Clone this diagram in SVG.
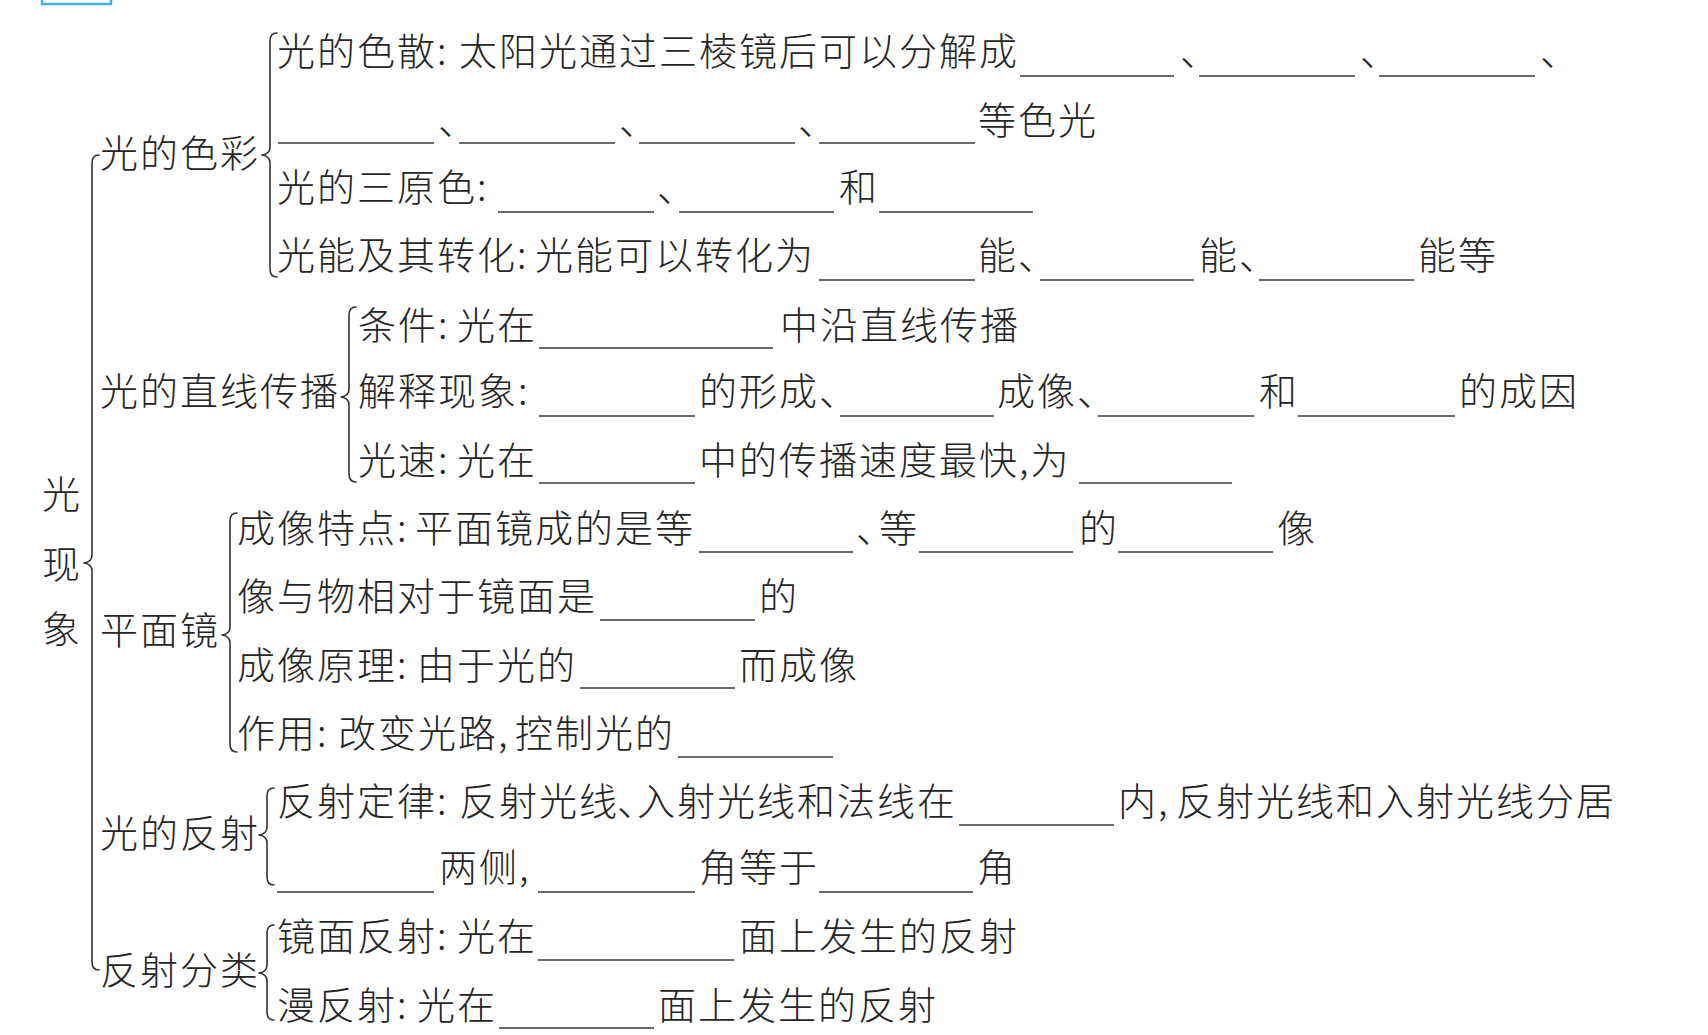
<svg xmlns="http://www.w3.org/2000/svg" width="1708" height="1035" viewBox="0 0 1708 1035">
<style>
text{font-family:"Noto Sans CJK SC","Noto Sans CJK JP",sans-serif;font-size:38px;font-weight:300;letter-spacing:2px;fill:#262626}
.n{letter-spacing:-20px}
.b{stroke:#3a3a3a;stroke-width:1.4;fill:none}
.br{stroke:#333;stroke-width:1.6;fill:none;stroke-linecap:round;stroke-linejoin:round}
</style>
<rect width="1708" height="1035" fill="#ffffff"/>
<rect x="42" y="-4" width="69" height="8" fill="#ffffff" stroke="#45aee6" stroke-width="2.5"/>

<g id="connectors">
<path class="br" d="M99,155 Q92,155 92,163 L92,555 Q92,562 84,563 Q92,564 92,571 L92,962 Q92,970 99,970"/>
<path class="br" d="M277,33 Q270,33 270,41 L270,147 Q270,154 262,155 Q270,156 270,163 L270,269 Q270,277 277,277"/>
<path class="br" d="M356,307 Q349,307 349,315 L349,389 Q349,396 341,397 Q349,398 349,405 L349,474 Q349,482 356,482"/>
<path class="br" d="M237,513 Q230,513 230,521 L230,627 Q230,634 222,635 Q230,636 230,643 L230,744 Q230,752 237,752"/>
<path class="br" d="M274,788 Q267,788 267,796 L267,827 Q267,834 259,835 Q267,836 267,843 L267,877 Q267,885 274,885"/>
<path class="br" d="M274,925 Q267,925 267,933 L267,965 Q267,972 259,973 Q267,974 267,981 L267,1012 Q267,1020 274,1020"/>
</g>

<g id="root">
<text x="42" y="508">光</text>
<text x="42" y="578">现</text>
<text x="42" y="643">象</text>
</g>

<g id="cat-color"><text x="100" y="167">光的色彩</text></g>
<g id="cat-straight"><text x="100" y="405">光的直线传播</text></g>
<g id="cat-mirror"><text x="100" y="644">平面镜</text></g>
<g id="cat-reflect"><text x="100" y="847">光的反射</text></g>
<g id="cat-types"><text x="100" y="984">反射分类</text></g>

<g id="dispersion">
<text y="65"><tspan x="277">光的色散:</tspan><tspan x="459">太阳光通过三棱镜后可以分解成</tspan><tspan x="1180">、</tspan><tspan x="1360">、</tspan><tspan x="1540">、</tspan></text>
<line class="b" x1="1020" y1="76" x2="1174" y2="76"/>
<line class="b" x1="1199" y1="76" x2="1355" y2="76"/>
<line class="b" x1="1379" y1="76" x2="1535" y2="76"/>
<text y="134"><tspan x="438">、</tspan><tspan x="619">、</tspan><tspan x="798">、</tspan><tspan x="978">等色光</tspan></text>
<line class="b" x1="278" y1="143" x2="434" y2="143"/>
<line class="b" x1="459" y1="143" x2="615" y2="143"/>
<line class="b" x1="639" y1="143" x2="795" y2="143"/>
<line class="b" x1="819" y1="143" x2="975" y2="143"/>
</g>

<g id="primary">
<text y="201"><tspan x="277">光的三原色:</tspan><tspan x="657">、</tspan><tspan x="839">和</tspan></text>
<line class="b" x1="498" y1="212" x2="654" y2="212"/>
<line class="b" x1="679" y1="212" x2="834" y2="212"/>
<line class="b" x1="879" y1="212" x2="1033" y2="212"/>
</g>

<g id="energy">
<text y="269"><tspan x="277">光能及其转化:</tspan><tspan x="535">光能可以转化为</tspan><tspan x="978">能、</tspan><tspan x="1199">能、</tspan><tspan x="1418">能等</tspan></text>
<line class="b" x1="819" y1="280" x2="975" y2="280"/>
<line class="b" x1="1040" y1="280" x2="1194" y2="280"/>
<line class="b" x1="1259" y1="280" x2="1414" y2="280"/>
</g>

<g id="condition">
<text y="339"><tspan x="358">条件:</tspan><tspan x="457">光在</tspan><tspan x="780">中沿直线传播</tspan></text>
<line class="b" x1="539" y1="348" x2="773" y2="348"/>
</g>

<g id="phenomena">
<text y="405"><tspan x="358">解释现象:</tspan><tspan x="699">的形成、</tspan><tspan x="997">成像、</tspan><tspan x="1259">和</tspan><tspan x="1459">的成因</tspan></text>
<line class="b" x1="539" y1="416" x2="695" y2="416"/>
<line class="b" x1="840" y1="416" x2="994" y2="416"/>
<line class="b" x1="1098" y1="416" x2="1254" y2="416"/>
<line class="b" x1="1298" y1="416" x2="1455" y2="416"/>
</g>

<g id="speed">
<text y="474"><tspan x="358">光速:</tspan><tspan x="457">光在</tspan><tspan x="699">中的传播速度最快,为</tspan></text>
<line class="b" x1="539" y1="483" x2="695" y2="483"/>
<line class="b" x1="1079" y1="483" x2="1232" y2="483"/>
</g>

<g id="features">
<text y="542"><tspan x="237">成像特点:</tspan><tspan x="415">平面镜成的是等</tspan><tspan x="856" class="n">、</tspan><tspan x="879">等</tspan><tspan x="1079">的</tspan><tspan x="1277">像</tspan></text>
<line class="b" x1="699" y1="552" x2="853" y2="552"/>
<line class="b" x1="919" y1="552" x2="1073" y2="552"/>
<line class="b" x1="1118" y1="552" x2="1273" y2="552"/>
</g>

<g id="symmetry">
<text y="610"><tspan x="237">像与物相对于镜面是</tspan><tspan x="759">的</tspan></text>
<line class="b" x1="600" y1="620" x2="755" y2="620"/>
</g>

<g id="principle">
<text y="679"><tspan x="237">成像原理:</tspan><tspan x="417">由于光的</tspan><tspan x="739">而成像</tspan></text>
<line class="b" x1="580" y1="688" x2="735" y2="688"/>
</g>

<g id="usage">
<text y="747"><tspan x="237">作用:</tspan><tspan x="338">改变光路,</tspan><tspan x="515">控制光的</tspan></text>
<line class="b" x1="678" y1="757" x2="833" y2="757"/>
</g>

<g id="law">
<text y="815"><tspan x="277">反射定律:</tspan><tspan x="459">反射光线</tspan><tspan x="617" class="n">、</tspan><tspan x="637">入射光线和法线在</tspan><tspan x="1118">内,</tspan><tspan x="1176">反射光线和入射光线分居</tspan></text>
<line class="b" x1="959" y1="825" x2="1114" y2="825"/>
<text y="881"><tspan x="439">两侧,</tspan><tspan x="699">角等于</tspan><tspan x="977">角</tspan></text>
<line class="b" x1="277" y1="892" x2="434" y2="892"/>
<line class="b" x1="538" y1="892" x2="695" y2="892"/>
<line class="b" x1="819" y1="892" x2="973" y2="892"/>
</g>

<g id="specular">
<text y="950"><tspan x="277">镜面反射:</tspan><tspan x="457">光在</tspan><tspan x="739">面上发生的反射</tspan></text>
<line class="b" x1="538" y1="960" x2="734" y2="960"/>
</g>

<g id="diffuse">
<text y="1019"><tspan x="277">漫反射:</tspan><tspan x="417">光在</tspan><tspan x="658">面上发生的反射</tspan></text>
<line class="b" x1="499" y1="1028" x2="654" y2="1028"/>
</g>
</svg>
